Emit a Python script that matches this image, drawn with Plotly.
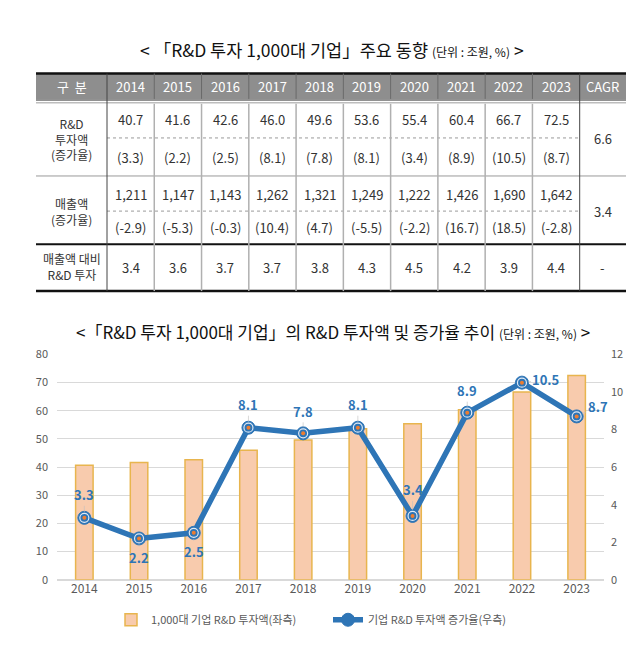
import plotly.graph_objects as go

W, H = 640, 649
FONT = "Noto Sans CJK KR"

years = ["2014", "2015", "2016", "2017", "2018", "2019", "2020", "2021", "2022", "2023"]
rnd_invest = [40.7, 41.6, 42.6, 46.0, 49.6, 53.6, 55.4, 60.4, 66.7, 72.5]
rnd_growth = [3.3, 2.2, 2.5, 8.1, 7.8, 8.1, 3.4, 8.9, 10.5, 8.7]
sales = ["1,211", "1,147", "1,143", "1,262", "1,321", "1,249", "1,222", "1,426", "1,690", "1,642"]
sales_growth = ["-2.9", "-5.3", "-0.3", "10.4", "4.7", "-5.5", "-2.2", "16.7", "18.5", "-2.8"]
rnd_ratio = [3.4, 3.6, 3.7, 3.7, 3.8, 4.3, 4.5, 4.2, 3.9, 4.4]
cagr_rnd = "6.6"
cagr_sales = "3.4"
cagr_ratio = "-"

# label offsets (pixels) for growth labels
label_ax = [0, 0, 0, 0, 0, 0, 0, 0, 24, 21]
label_ay = [-23, 19, 19, -23, -22, -23, -26, -22, -3, -10]


def px(x):
    return x / W


def py(y):
    return 1 - y / H


fig = go.Figure()

# ---------------- chart ----------------
fig.add_trace(go.Bar(
    x=years, y=rnd_invest, name="1,000대 기업 R&D 투자액(좌측)",
    marker=dict(color="#f8cbad", line=dict(color="#e8b54e", width=1.5)),
    width=0.32, yaxis="y",
))
fig.add_trace(go.Scatter(
    x=years, y=rnd_growth, name="기업 R&D 투자액 증가율(우측)", yaxis="y2",
    mode="lines+markers",
    line=dict(color="#2e75b6", width=5.5),
    marker=dict(size=13, color="#2e75b6", line=dict(color="#2e75b6", width=1)),
))
fig.add_trace(go.Scatter(
    x=years, y=rnd_growth, yaxis="y2", mode="markers", showlegend=False, hoverinfo="skip",
    marker=dict(size=9, symbol="circle-open", color="#dfe9f5", line=dict(width=1.2)),
))
fig.add_trace(go.Scatter(
    x=years, y=rnd_growth, yaxis="y2", mode="markers", showlegend=False, hoverinfo="skip",
    marker=dict(size=4, color="#ed7d31"),
))

for i, (v, ax, ay) in enumerate(zip(rnd_growth, label_ax, label_ay)):
    fig.add_annotation(
        x=i, y=v, xref="x", yref="y2", text=f"<b>{v}</b>",
        showarrow=True, arrowhead=0, arrowwidth=0.6, arrowcolor="#bfbfbf",
        ax=ax, ay=ay, standoff=6,
        font=dict(family=FONT, size=13, color="#2e75b6"),
    )

# ---------------- table ----------------
T_L, T_R = 28, 618
C0 = 99
CW = (571.7 - C0) / 10
CAGR_L = C0 + 10 * CW

shapes = []


def line(x0, y0, x1, y1, color, width, dash="solid"):
    shapes.append(dict(type="line", xref="paper", yref="paper",
                       x0=px(x0), y0=py(y0), x1=px(x1), y1=py(y1),
                       line=dict(color=color, width=width, dash=dash), layer="above"))


# header background
shapes.append(dict(type="rect", xref="paper", yref="paper",
                   x0=px(T_L), x1=px(T_R), y0=py(84), y1=py(58),
                   fillcolor="#8e8e8e", line=dict(width=0), layer="below"))
line(T_L, 58, T_R, 58, "#111111", 2.5)
line(T_L, 85, T_R, 85, "#6e6e6e", 1.5)
line(T_L, 88, T_R, 88, "#bdbdbd", 1.5)
line(C0, 124, CAGR_L, 124, "#9a9a9a", 1, "dot")
line(T_L, 163, T_R, 163, "#9a9a9a", 1)
line(C0, 199, CAGR_L, 199, "#9a9a9a", 1, "dot")
line(T_L, 233, T_R, 233, "#111111", 2)
line(T_L, 281, T_R, 281, "#111111", 2.5)
# verticals
line(C0, 58, C0, 281, "#444444", 1)
line(CAGR_L, 58, CAGR_L, 281, "#444444", 1)
for i in range(1, 10):
    xv = C0 + i * CW
    line(xv, 58, xv, 84, "#6a6a6a", 1)
    line(xv, 89, xv, 281, "#b0b0b0", 1.5)

annotations = []


def txt(x, y, s, size=13, color="#333333"):
    annotations.append(dict(x=px(x), y=py(y), xref="paper", yref="paper", text=s,
                            showarrow=False, xanchor="center", yanchor="middle",
                            font=dict(family=FONT, size=size, color=color)))


txt((T_L + C0) / 2, 71, "구  분", 13, "white")
for i, yr in enumerate(years):
    cx = C0 + (i + 0.5) * CW
    txt(cx, 71, yr, 13, "white")
    txt(cx, 105, f"{rnd_invest[i]:.1f}")
    txt(cx, 144, f"({rnd_growth[i]})")
    txt(cx, 182, sales[i])
    txt(cx, 216, f"({sales_growth[i]})")
    txt(cx, 257, f"{rnd_ratio[i]}")
cx = (CAGR_L + T_R) / 2
txt(cx, 71, "CAGR", 13, "white")
txt(cx, 125, cagr_rnd)
txt(cx, 199, cagr_sales)
txt(cx, 257, cagr_ratio)
c0x = (T_L + C0) / 2
txt(c0x, 125, "R&D<br>투자액<br>(증가율)", 12)
txt(c0x, 199, "매출액<br>(증가율)", 12)
txt(c0x, 256, "매출액 대비<br>R&D 투자", 12)

# titles
txt(324, 33, "&lt; 「R&D 투자 1,000대 기업」주요 동향 <span style='font-size:12px'>(단위 : 조원, %)</span> &gt;", 17.5, "#111111")
txt(325, 322, "&lt;「R&D 투자 1,000대 기업」의 R&D 투자액 및 증가율 추이 <span style='font-size:12px'>(단위 : 조원, %)</span> &gt;", 17, "#111111")

for a in annotations:
    fig.add_annotation(**a)

fig.update_layout(
    width=W, height=H,
    margin=dict(l=0, r=0, t=0, b=0),
    paper_bgcolor="white", plot_bgcolor="white",
    font=dict(family=FONT, color="#595959"),
    shapes=shapes,
    xaxis=dict(type="category", domain=[px(49), px(596)], anchor="y",
               range=[-0.5, 9.5],
               tickfont=dict(size=12, color="#595959"), showline=False, ticks="",
               showgrid=False),
    yaxis=dict(domain=[py(577), py(346)], range=[0, 80], dtick=10,
               gridcolor="#d9d9d9", gridwidth=1, zeroline=True, zerolinecolor="#d9d9d9",
               tickfont=dict(size=11, color="#595959"), ticks="", ticklabelstandoff=8),
    yaxis2=dict(overlaying="y", side="right", range=[0, 12], dtick=2, showgrid=False,
                zeroline=False, tickfont=dict(size=11, color="#595959"), ticklabelstandoff=6),
    legend=dict(orientation="h", x=0.5, xanchor="center", y=py(618), yanchor="middle",
                font=dict(family=FONT, size=11, color="#595959"), itemwidth=30,
                entrywidth=172, entrywidthmode="pixels",
                traceorder="normal"),
    showlegend=True,
)

fig.write_html("out.html")
